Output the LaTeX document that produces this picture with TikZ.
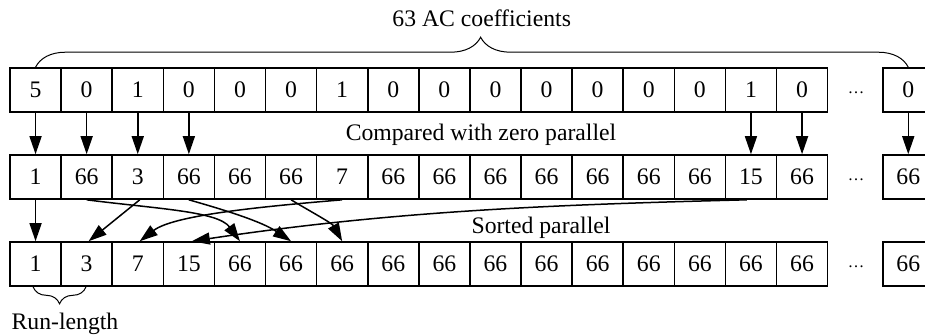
\documentclass[tikz,border=0pt]{standalone}
\usepackage{fontspec}
\setmainfont{Liberation Serif}
\usetikzlibrary{arrows.meta,decorations.pathreplacing}
\begin{document}
\begin{tikzpicture}[x=1pt,y=1pt,
  cell/.style={draw, line width=1.6pt, minimum width=51.1pt, minimum height=44pt,
    inner sep=0pt, font=\fontsize{23.7}{28}\selectfont},
  arr/.style={line width=1.5pt, -{Triangle[length=18pt,width=12pt]}},
  lbl/.style={font=\fontsize{23.7}{28}\selectfont, anchor=base, inner sep=0pt},
  ellip/.style={font=\fontsize{16.5}{20}\selectfont, anchor=base, inner sep=0pt},
  brc/.style={decorate, line width=1pt}]
\useasboundingbox (0,0) rectangle (925,-335);
\clip (0,0) rectangle (925,-335);

% three rows of coefficient cells
\foreach \v [count=\i] in {5,0,1,0,0,0,1,0,0,0,0,0,0,0,1,0}
  \node[cell] (t\i) at ({10+(\i-0.5)*51.1},-90) {\v};
\node[cell] (t17) at (908.25,-90) {0};

\foreach \v [count=\i] in {1,66,3,66,66,66,7,66,66,66,66,66,66,66,15,66}
  \node[cell] (m\i) at ({10+(\i-0.5)*51.1},-177) {\v};
\node[cell] (m17) at (908.25,-177) {66};

\foreach \v [count=\i] in {1,3,7,15,66,66,66,66,66,66,66,66,66,66,66,66}
  \node[cell] (b\i) at ({10+(\i-0.5)*51.1},-264) {\v};
\node[cell] (b17) at (908.25,-264) {66};

% ellipses between the rows' main part and their last cell
\node[ellip] (d1) at (856,-93) {…};
\node[ellip] (d2) at (856,-180) {…};
\node[ellip] (d3) at (856,-267) {…};

% labels
\node[lbl] (ac) at (481.7,-26.7) {63 AC coefficients};
\node[lbl] (cmp) at (481,-140.5) {Compared with zero parallel};
\node[lbl] (srt) at (541,-233.3) {Sorted parallel};
\node[lbl] (rl) at (65,-329.5) {Run-length};

% braces
\draw[brc, decoration={brace, amplitude=30pt, aspect=0.51}] (t1.north) -- (t17.north);
\draw[brc, decoration={brace, amplitude=17pt, aspect=0.5}]
  ([xshift=-0.6pt]b2.south) -- ([xshift=-2.5pt]b1.south);

% comparison with zero
\foreach \i in {1,2,3,4,15,16,17}
  \draw[arr] (t\i.south) -- (m\i.north);

% sorting
\draw[arr] (m1.south) -- (b1.north);
\draw[arr] ([xshift=2pt]m3.south) -- ([xshift=2pt]b2.north);
\draw[arr] (m2.south) .. controls +(70,-9) and +(-22,30) .. (b5.north);
\draw[arr] (m4.south) .. controls +(35,-10) and +(-30,20) .. (b6.north);
\draw[arr] (m6.south) .. controls +(20,-12) and +(-10,18) .. (b7.north);
\draw[arr] (m7.south) .. controls +(-70,-6) and +(35,27) .. ([xshift=2pt]b3.north);
\draw[arr] ([xshift=-4pt]m15.south) .. controls +(-200,-5) and +(200,30) .. ([xshift=3pt]b4.north);
\end{tikzpicture}
\end{document}
